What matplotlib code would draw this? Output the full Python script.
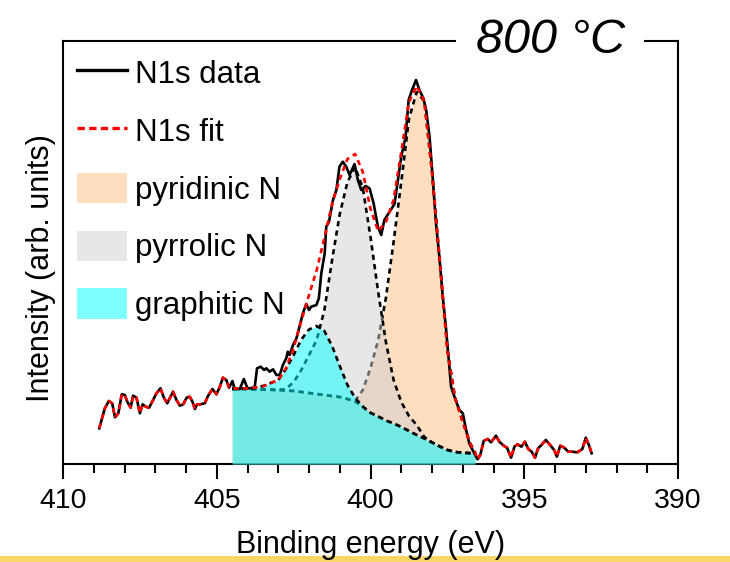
import numpy as np
import matplotlib.pyplot as plt
from matplotlib.lines import Line2D
from matplotlib.patches import Patch, Rectangle
from matplotlib.ticker import MultipleLocator

plt.rcParams['font.family'] = ['Liberation Sans', 'DejaVu Sans']

# measured N1s spectrum (binding energy in eV, intensity in arb. units)
data_ev = [408.82, 408.64, 408.51, 408.40, 408.31, 408.20, 408.09, 407.99, 407.91, 407.80,
           407.72, 407.61, 407.50, 407.41, 407.31, 407.20, 407.07, 406.96, 406.83, 406.72,
           406.61, 406.50, 406.42, 406.31, 406.20, 406.09, 405.98, 405.88, 405.79, 405.71,
           405.64, 405.53, 405.39, 405.28, 405.14, 405.01, 404.90, 404.80, 404.69, 404.60,
           404.49, 404.42, 404.25, 404.12, 404.00, 403.77, 403.69, 403.57, 403.46, 403.39,
           403.28, 403.17, 403.06, 402.95, 402.85, 402.74, 402.69, 402.63, 402.52, 402.41,
           402.31, 402.20, 402.09, 402.00, 401.93, 401.76, 401.68, 401.60, 401.49, 401.44,
           401.35, 401.22, 401.11, 401.01, 400.90, 400.79, 400.68, 400.52, 400.41, 400.30,
           400.16, 400.03, 399.90, 399.76, 399.65, 399.55, 399.38, 399.22, 399.11, 399.00,
           398.86, 398.76, 398.65, 398.52, 398.41, 398.28, 398.19, 398.08, 397.98, 397.87,
           397.76, 397.65, 397.54, 397.38, 397.27, 397.11, 397.00, 396.89, 396.79, 396.68,
           396.52, 396.43, 396.32, 396.19, 396.08, 395.92, 395.81, 395.67, 395.56, 395.43,
           395.32, 395.22, 395.09, 394.98, 394.87, 394.76, 394.65, 394.55, 394.44, 394.30,
           394.16, 394.03, 393.94, 393.83, 393.70, 393.57, 393.46, 393.27, 393.11, 393.00,
           392.89, 392.81]
data_i = [357, 557, 630, 607, 467, 507, 697, 690, 623, 563,
          683, 663, 507, 597, 573, 563, 640, 707, 757, 663,
          607, 673, 723, 640, 583, 597, 663, 673, 623, 550,
          597, 597, 607, 683, 750, 697, 773, 863, 840, 763,
          830, 750, 750, 850, 757, 757, 957, 973, 940, 957,
          923, 947, 890, 890, 990, 1057, 1123, 1090, 1190, 1257,
          1373, 1507, 1600, 1540, 1573, 1590, 1657, 1907, 2107, 2373,
          2423, 2640, 2740, 2973, 3023, 2973, 2890, 3000, 2840, 2740,
          2780, 2757, 2607, 2373, 2290, 2440, 2523, 2600, 2840, 3073,
          3273, 3640, 3740, 3840, 3740, 3657, 3540, 3273, 2873, 2407,
          2073, 1673, 1340, 773, 673, 540, 507, 340, 207, 140,
          47, 90, 230, 250, 217, 283, 223, 183, 163, 63,
          173, 197, 173, 223, 150, 123, 63, 157, 190, 240,
          190, 140, 73, 183, 163, 123, 123, 117, 150, 263,
          183, 107]

# fitted components (each includes the background) on the fit range
comp_ev = [404.5, 404.0, 403.5, 403.0, 402.75, 402.5, 402.25, 402.0, 401.75, 401.5,
           401.25, 401.0, 400.75, 400.5, 400.25, 400.0, 399.75, 399.5, 399.25, 399.0,
           398.75, 398.5, 398.25, 398.0, 397.75, 397.5, 397.25, 397.0, 396.75, 396.6]
background = [750, 750, 745, 740, 735, 730, 720, 710, 700, 690,
              680, 670, 650, 625, 570, 510, 475, 435, 405, 370,
              330, 290, 255, 215, 175, 140, 120, 112, 108, 107]
graphitic = [755, 755, 780, 840, 950, 1090, 1245, 1345, 1380, 1330,
             1180, 980, 790, 660, 575, 512, 475, 435, 405, 370,
             330, 290, 255, 215, 175, 140, 120, 112, 108, 107]
pyrrolic = [750, 750, 745, 740, 750, 820, 940, 1090, 1240, 1540,
            2040, 2500, 2820, 2970, 2760, 2270, 1720, 1220, 840, 620,
            480, 390, 270, 215, 175, 140, 120, 112, 108, 107]
pyridinic = [750, 750, 745, 740, 735, 730, 720, 710, 700, 690,
             680, 670, 650, 635, 740, 960, 1240, 1660, 2220, 2820,
             3450, 3720, 3630, 2920, 2040, 1140, 660, 420, 200, 120]
envelope = [755, 755, 775, 840, 955, 1160, 1430, 1690, 1940, 2260,
            2600, 2850, 3050, 3100, 2920, 2550, 2330, 2420, 2640, 3120,
            3620, 3780, 3630, 2920, 2040, 1140, 660, 420, 200, 120]

data_ev = np.array(data_ev)
data_i = np.array(data_i)
# outside the fit range the fit curve follows the data
left = data_ev > comp_ev[0]
right = data_ev < comp_ev[-1]
fit_ev = np.concatenate([data_ev[left], comp_ev, data_ev[right]])
fit_i = np.concatenate([data_i[left], envelope, data_i[right]])

peach = '#ffbd81'
grey = '#d0d0d0'
cyan = '#00ffff'
dash = (0, (2, 1.6))

fig = plt.figure(figsize=(7.3, 5.62), dpi=100)
ax = fig.add_axes([0.0863, 0.1744, 0.8425, 0.7526])

ax.fill_between(comp_ev, 0, pyridinic, color=peach, alpha=0.5, lw=0, zorder=1)
ax.plot(comp_ev, pyridinic, color='k', ls=dash, lw=1.9, zorder=2)
ax.fill_between(comp_ev, 0, pyrrolic, color=grey, alpha=0.5, lw=0, zorder=3)
ax.plot(comp_ev, pyrrolic, color='k', ls=dash, lw=1.9, zorder=4)
ax.plot(comp_ev, background, color='k', ls=dash, lw=1.9, zorder=4)
ax.fill_between(comp_ev, 0, graphitic, color=cyan, alpha=0.5, lw=0, zorder=5)
ax.plot(comp_ev, graphitic, color='k', ls=dash, lw=1.9, zorder=6)
ax.plot(data_ev, data_i, color='k', lw=1.9, zorder=7)
ax.plot(fit_ev, fit_i, color='red', ls=dash, lw=1.9, zorder=8)

ax.set_xlim(410, 390)
ax.set_ylim(0, 4230)
ax.set_xticks([410, 405, 400, 395, 390])
ax.xaxis.set_minor_locator(MultipleLocator(1))
ax.set_yticks([])
ax.tick_params(axis='x', which='major', direction='out', length=10.5, width=1.5,
               labelsize=20.5, pad=7)
ax.tick_params(axis='x', which='minor', direction='out', length=6.5, width=1.5)
for s in ax.spines.values():
    s.set_linewidth(1.5)

ax.set_xlabel('Binding energy (eV)', fontsize=22)
ax.xaxis.set_label_coords(0.5, -0.156)
ax.set_ylabel('Intensity (arb. units)', fontsize=22)
ax.yaxis.set_label_coords(-0.012, 0.463)

ax.text(0.792, 0.9716, '800 °C', transform=ax.transAxes, ha='center', va='baseline',
        fontsize=35, style='italic', zorder=10, clip_on=False,
        bbox=dict(boxstyle='square,pad=0.4', fc='white', ec='none'))

handles = [Line2D([], [], color='k', lw=2.4),
           Line2D([], [], color='red', ls=(0, (2.2, 1.3)), lw=2.4),
           Patch(facecolor=peach, alpha=0.5, lw=0),
           Patch(facecolor=grey, alpha=0.5, lw=0),
           Patch(facecolor=cyan, alpha=0.5, lw=0)]
labels = ['N1s data', 'N1s fit', 'pyridinic N', 'pyrrolic N', 'graphitic N']
ax.legend(handles, labels, loc='upper left', bbox_to_anchor=(0.022, 0.962),
          frameon=False, fontsize=22.5, handlelength=1.62, handleheight=1.12,
          labelspacing=0.8, handletextpad=0.25, borderaxespad=0, borderpad=0)

fig.add_artist(Rectangle((0, 0), 1, 6 / 562, transform=fig.transFigure,
                         color='#f9d667', lw=0, zorder=-1))

fig.savefig('out.png', dpi=100)
